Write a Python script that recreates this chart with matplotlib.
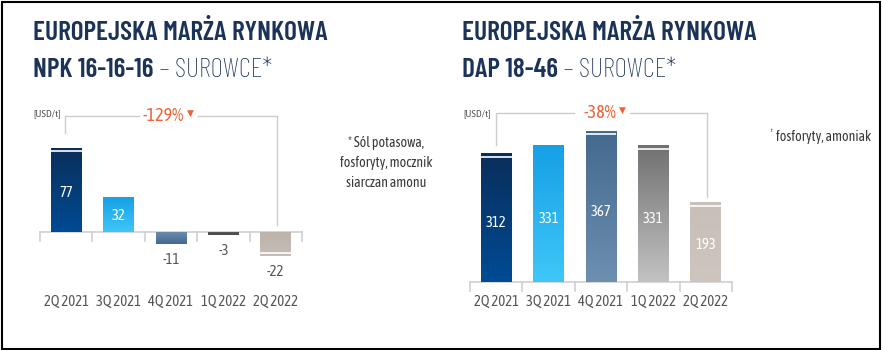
import matplotlib
matplotlib.use("Agg")
import matplotlib.pyplot as plt
import numpy as np
from matplotlib import font_manager as fm
from matplotlib.colors import LinearSegmentedColormap
from matplotlib.transforms import blended_transform_factory, Bbox, TransformedBbox
from matplotlib.patches import Rectangle

# ---------------- data ----------------
categories = ["2Q 2021", "3Q 2021", "4Q 2021", "1Q 2022", "2Q 2022"]
npk_values = [77, 32, -11, -3, -22]
dap_values = [312, 331, 367, 331, 193]
npk_change = "-129%"
dap_change = "-38%"
unit_label = "[USD/t]"
title_main = "EUROPEJSKA MARŻA RYNKOWA"
npk_product = "NPK 16-16-16"
dap_product = "DAP 18-46"
subtitle_rest = " – SUROWCE*"
npk_note = "* Sól potasowa,\nfosforyty, mocznik\nsiarczan amonu"
dap_note_mark = "*"
dap_note = "fosforyty, amoniak"

# ---------------- style ----------------
installed = set(f.name for f in fm.fontManager.ttflist)


def pick(cands):
    return [c for c in cands if c in installed][:1] + ["DejaVu Sans"]


TITLE_F = pick(["Barlow Condensed", "Asap Condensed", "Liberation Sans Narrow"])
LABEL_F = pick(["Asap Condensed", "Fira Sans Condensed", "Barlow Semi Condensed",
                "Liberation Sans Narrow"])
plt.rcParams["font.family"] = LABEL_F
NAVY = "#1b3358"
GRAY_TXT = "#555555"
ORANGE = "#ef6236"
AXIS_C = "#cfcfcf"
BRACKET_C = "#cccccc"

grad_left = [("#0a2e5a", "#004b94"), ("#16a0e6", "#3fc7f8"), ("#44698e", "#6a8cae"),
             ("#4a4a4a", "#5a5a5a"), ("#c6beb6", "#bcb3aa")]
grad_right = [("#0a2e5a", "#004b94"), ("#16a0e6", "#3fc7f8"), ("#44698e", "#6d8fb0"),
              ("#717171", "#c2c2c2"), ("#c8c0b8", "#cec6be")]
caps_left = [True, False, False, False, True]
caps_right = [True, False, True, True, True]

W, H = 883, 350
fig = plt.figure(figsize=(W / 100, H / 100), dpi=100)
fig.patch.set_facecolor("white")
renderer = fig.canvas.get_renderer()


def px_axes(x0, base_from_top, width, ylim, scale):
    lo, hi = ylim
    base_from_bottom = H - base_from_top
    bottom = base_from_bottom + lo * scale
    height = (hi - lo) * scale
    ax = fig.add_axes([x0 / W, bottom / H, width / W, height / H])
    ax.set_xlim(-0.5, len(categories) - 0.5)
    ax.set_ylim(lo, hi)
    ax.axis("off")
    return ax


def draw_chart(ax, values, grads, caps, scale, change, bracket, pct_right):
    x = np.arange(len(values))
    bw = 0.59
    bars = ax.bar(x, values, width=bw, color=[g[0] for g in grads], zorder=2, linewidth=0)
    for b, (c_top, c_bot), v, cap in zip(bars, grads, values, caps):
        cmap = LinearSegmentedColormap.from_list("g", [c_top, c_bot])
        x0 = b.get_x()
        y0, y1 = sorted([0, v])
        grad = np.linspace(0, 1, 100).reshape(-1, 1)
        im = ax.imshow(grad, extent=[x0, x0 + bw, y0, y1], origin="upper" if v >= 0 else "lower",
                       cmap=cmap, aspect="auto", zorder=2)
        im.set_clip_path(b)
        if cap:
            yc = v - np.sign(v) * 3.2 / scale
            ax.plot([x0, x0 + bw], [yc, yc], color="white", lw=1.2, zorder=3,
                    solid_capstyle="butt")
    ax.set_xlim(-0.5, len(values) - 0.5)
    ax.plot([-0.5, len(values) - 0.5], [0, 0], color=AXIS_C, lw=1.2, zorder=1, clip_on=False)
    tick_len = 9 / scale
    for t in np.arange(-0.5, len(values), 1.0):
        ax.plot([t, t], [0, -tick_len], color=AXIS_C, lw=1.2, clip_on=False, zorder=1)
    for xi, v in zip(x, values):
        if v >= 0:
            ax.text(xi, v * 0.46, str(v), ha="center", va="center", color="white",
                    fontsize=10.5, zorder=4)
        else:
            ax.annotate(str(v), (xi, v), xytext=(0, -11.5), textcoords="offset points",
                        ha="center", va="center", color=GRAY_TXT, fontsize=10.5)
    tr = blended_transform_factory(ax.transData, fig.transFigure)
    for xi, c in zip(x, categories):
        ax.text(xi, 1 - 302 / H, c, transform=tr, ha="center", va="center",
                color=GRAY_TXT, fontsize=10.5, clip_on=False)
    (xl, yl_bot), (xr, yr_bot), y_top, gap_l, gap_r = bracket
    ax.plot([xl, xl, gap_l], [yl_bot, y_top, y_top], color=BRACKET_C, lw=1, clip_on=False)
    ax.plot([gap_r, xr, xr], [y_top, y_top, yr_bot], color=BRACKET_C, lw=1, clip_on=False)
    ptxt = ax.text(pct_right, y_top, change, ha="right", va="center",
                   color=ORANGE, fontsize=13, clip_on=False)
    ax.annotate("\u25bc", xy=(1, 0.62), xycoords=ptxt, xytext=(2.0, 0),
                textcoords="offset points", ha="left", va="center",
                color=ORANGE, fontsize=6.5, family="DejaVu Sans", annotation_clip=False)


# ---- left chart ----
sL = 1.09
axL = px_axes(40, 232, 262, (-40, 100), sL)
def yL(p):
    return (232 - p) / sL
def xL(p):
    return (p - 40) / 52.4 - 0.5
draw_chart(axL, npk_values, grad_left, caps_left, sL, npk_change,
           ((xL(65), yL(133)), (xL(277), yL(225)), yL(116), xL(139), xL(198)), xL(184))

# ---- right chart ----
sR = 0.4125
axR = px_axes(470, 282, 262, (-50, 400), sR)
def yR(p):
    return (282 - p) / sR
def xR(p):
    return (p - 470) / 52.4 - 0.5
draw_chart(axR, dap_values, grad_right, caps_right, sR, dap_change,
           ((xR(496), yR(145)), (xR(707), yR(197)), yR(113), xR(574), xR(630)), xR(616))

# ---- titles: size chosen so the first line spans ~294 px ----
probe = fig.text(0, 0, title_main, fontsize=20, fontweight="semibold", family=TITLE_F)
w20 = probe.get_window_extent(renderer).width
probe.remove()
TS = 20 * 294 / w20


def titles(x_px, product):
    fig.text(x_px / W, 1 - 33 / H, title_main, ha="left", va="center", color=NAVY,
             fontsize=TS, fontweight="semibold", family=TITLE_F)
    t1 = fig.text(x_px / W, 1 - 70 / H, product, ha="left", va="center", color=NAVY,
                  fontsize=TS, fontweight="semibold", family=TITLE_F)
    fig.canvas.draw()
    bb = t1.get_window_extent(renderer)
    fig.text(bb.x1 / W, 1 - 70 / H, subtitle_rest, ha="left", va="center",
             color=NAVY, fontsize=TS, fontweight="light", family=TITLE_F)


titles(33, npk_product)
titles(462, dap_product)

fig.text(33 / W, 1 - 114 / H, unit_label, ha="left", va="center", color=GRAY_TXT, fontsize=7.5)
fig.text(463 / W, 1 - 114 / H, unit_label, ha="left", va="center", color=GRAY_TXT, fontsize=7.5)

fig.text(386 / W, 1 - 163 / H, npk_note, ha="center", va="center", color="#3a3a3a",
         fontsize=10, linespacing=1.55)
fig.text(776 / W, 1 - 137 / H, dap_note, ha="left", va="center", color="#3a3a3a", fontsize=10)
tm = fig.text(773 / W, 1 - 135 / H, dap_note_mark, ha="right", va="center", color="#3a3a3a",
              fontsize=10)
tm.set_clip_box(TransformedBbox(Bbox([[770.5 / W, 0], [1, 1]]), fig.transFigure))
tm.set_clip_on(True)

fig.patches.append(Rectangle((1.5 / W, 1.5 / H), (W - 5) / W, (H - 3) / H,
                             transform=fig.transFigure, fill=False, edgecolor="black",
                             linewidth=1.5, zorder=10))

fig.savefig("out.png", dpi=100, facecolor="white")
